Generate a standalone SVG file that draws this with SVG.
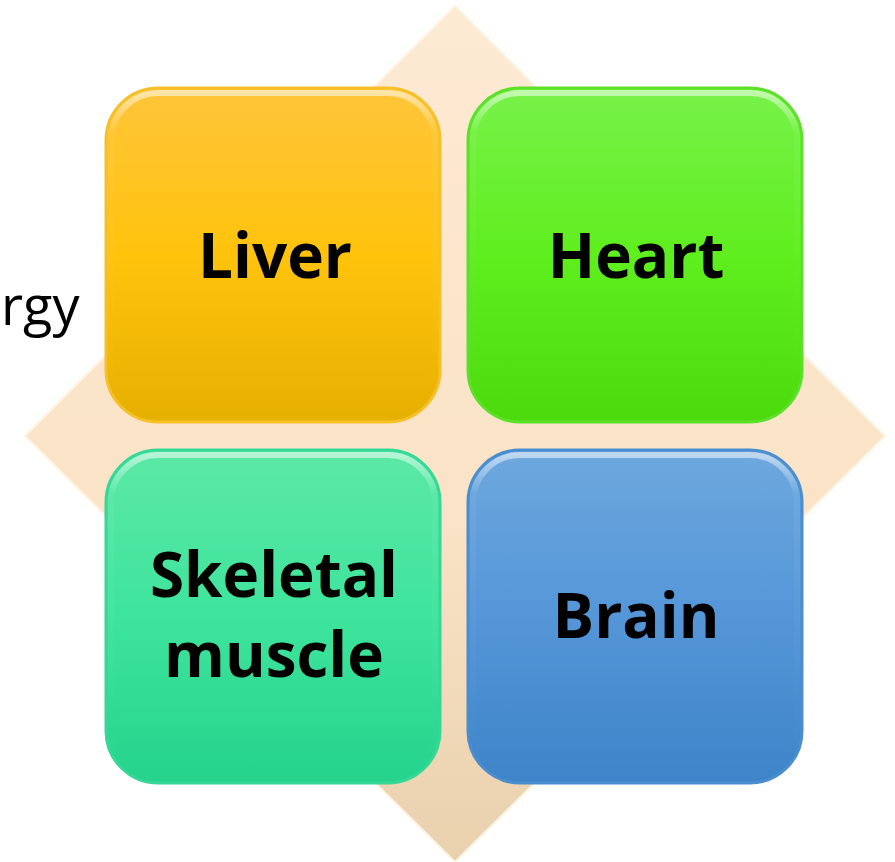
<svg xmlns="http://www.w3.org/2000/svg" width="895" height="862" viewBox="0 0 895 862">
<defs>
<linearGradient id="gDia" x1="0" y1="0" x2="0" y2="1">
<stop offset="0" stop-color="#FDEAD3"/><stop offset="0.6" stop-color="#FAE3C6"/><stop offset="1" stop-color="#E9D1AE"/>
</linearGradient>
<linearGradient id="gLiver" x1="0" y1="0" x2="0" y2="1">
<stop offset="0" stop-color="#FFC53A"/><stop offset="0.5" stop-color="#FFC30C"/><stop offset="1" stop-color="#E6B000"/>
</linearGradient>
<linearGradient id="gHeart" x1="0" y1="0" x2="0" y2="1">
<stop offset="0" stop-color="#78F24A"/><stop offset="0.5" stop-color="#5FEE1E"/><stop offset="1" stop-color="#4CDA0C"/>
</linearGradient>
<linearGradient id="gSkel" x1="0" y1="0" x2="0" y2="1">
<stop offset="0" stop-color="#5CE8A6"/><stop offset="0.5" stop-color="#3EE49C"/><stop offset="1" stop-color="#25D38C"/>
</linearGradient>
<linearGradient id="gBrain" x1="0" y1="0" x2="0" y2="1">
<stop offset="0" stop-color="#6EA8DE"/><stop offset="0.5" stop-color="#5496D8"/><stop offset="1" stop-color="#3E84C8"/>
</linearGradient>
<linearGradient id="gHi" x1="0" y1="0" x2="0" y2="1">
<stop offset="0" stop-color="#FFFFFF" stop-opacity="0.55"/><stop offset="0.12" stop-color="#FFFFFF" stop-opacity="0.05"/><stop offset="1" stop-color="#FFFFFF" stop-opacity="0"/>
</linearGradient>
</defs>
<style>
.box{stroke-width:3}
.hi{fill:none;stroke:url(#gHi);stroke-width:6}
.lbl{font-family:"Open Sans","Liberation Sans",sans-serif;font-weight:bold;font-size:62px;fill:#000;text-anchor:middle}
.side{font-family:"Open Sans","Liberation Sans",sans-serif;font-size:54px;fill:#000}
</style>
<text class="side" x="1" y="325">rgy</text>
<g id="diamond">
<polygon points="455,6 885,436 455,862 25,436" fill="url(#gDia)" stroke="#FFF3E2" stroke-width="2"/>
</g>
<g id="liver">
<rect class="box" x="106" y="88" width="334" height="334" rx="52" fill="url(#gLiver)" stroke="#F5C02A"/>
<rect class="hi" x="111" y="93" width="324" height="324" rx="47"/>
<text class="lbl" x="275" y="278">Liver</text>
</g>
<g id="heart">
<rect class="box" x="468" y="88" width="334" height="334" rx="52" fill="url(#gHeart)" stroke="#5CE02A"/>
<rect class="hi" x="473" y="93" width="324" height="324" rx="47"/>
<text class="lbl" x="636" y="278">Heart</text>
</g>
<g id="skeletal">
<rect class="box" x="106" y="450" width="334" height="333" rx="52" fill="url(#gSkel)" stroke="#35D896"/>
<rect class="hi" x="111" y="455" width="324" height="323" rx="47"/>
<text class="lbl" x="274" y="597">Skeletal</text>
<text class="lbl" x="274" y="677">muscle</text>
</g>
<g id="brain">
<rect class="box" x="468" y="450" width="334" height="333" rx="52" fill="url(#gBrain)" stroke="#4A8ED0"/>
<rect class="hi" x="473" y="455" width="324" height="323" rx="47"/>
<text class="lbl" x="636" y="638">Brain</text>
</g>
<g id="connectors"></g>
</svg>
